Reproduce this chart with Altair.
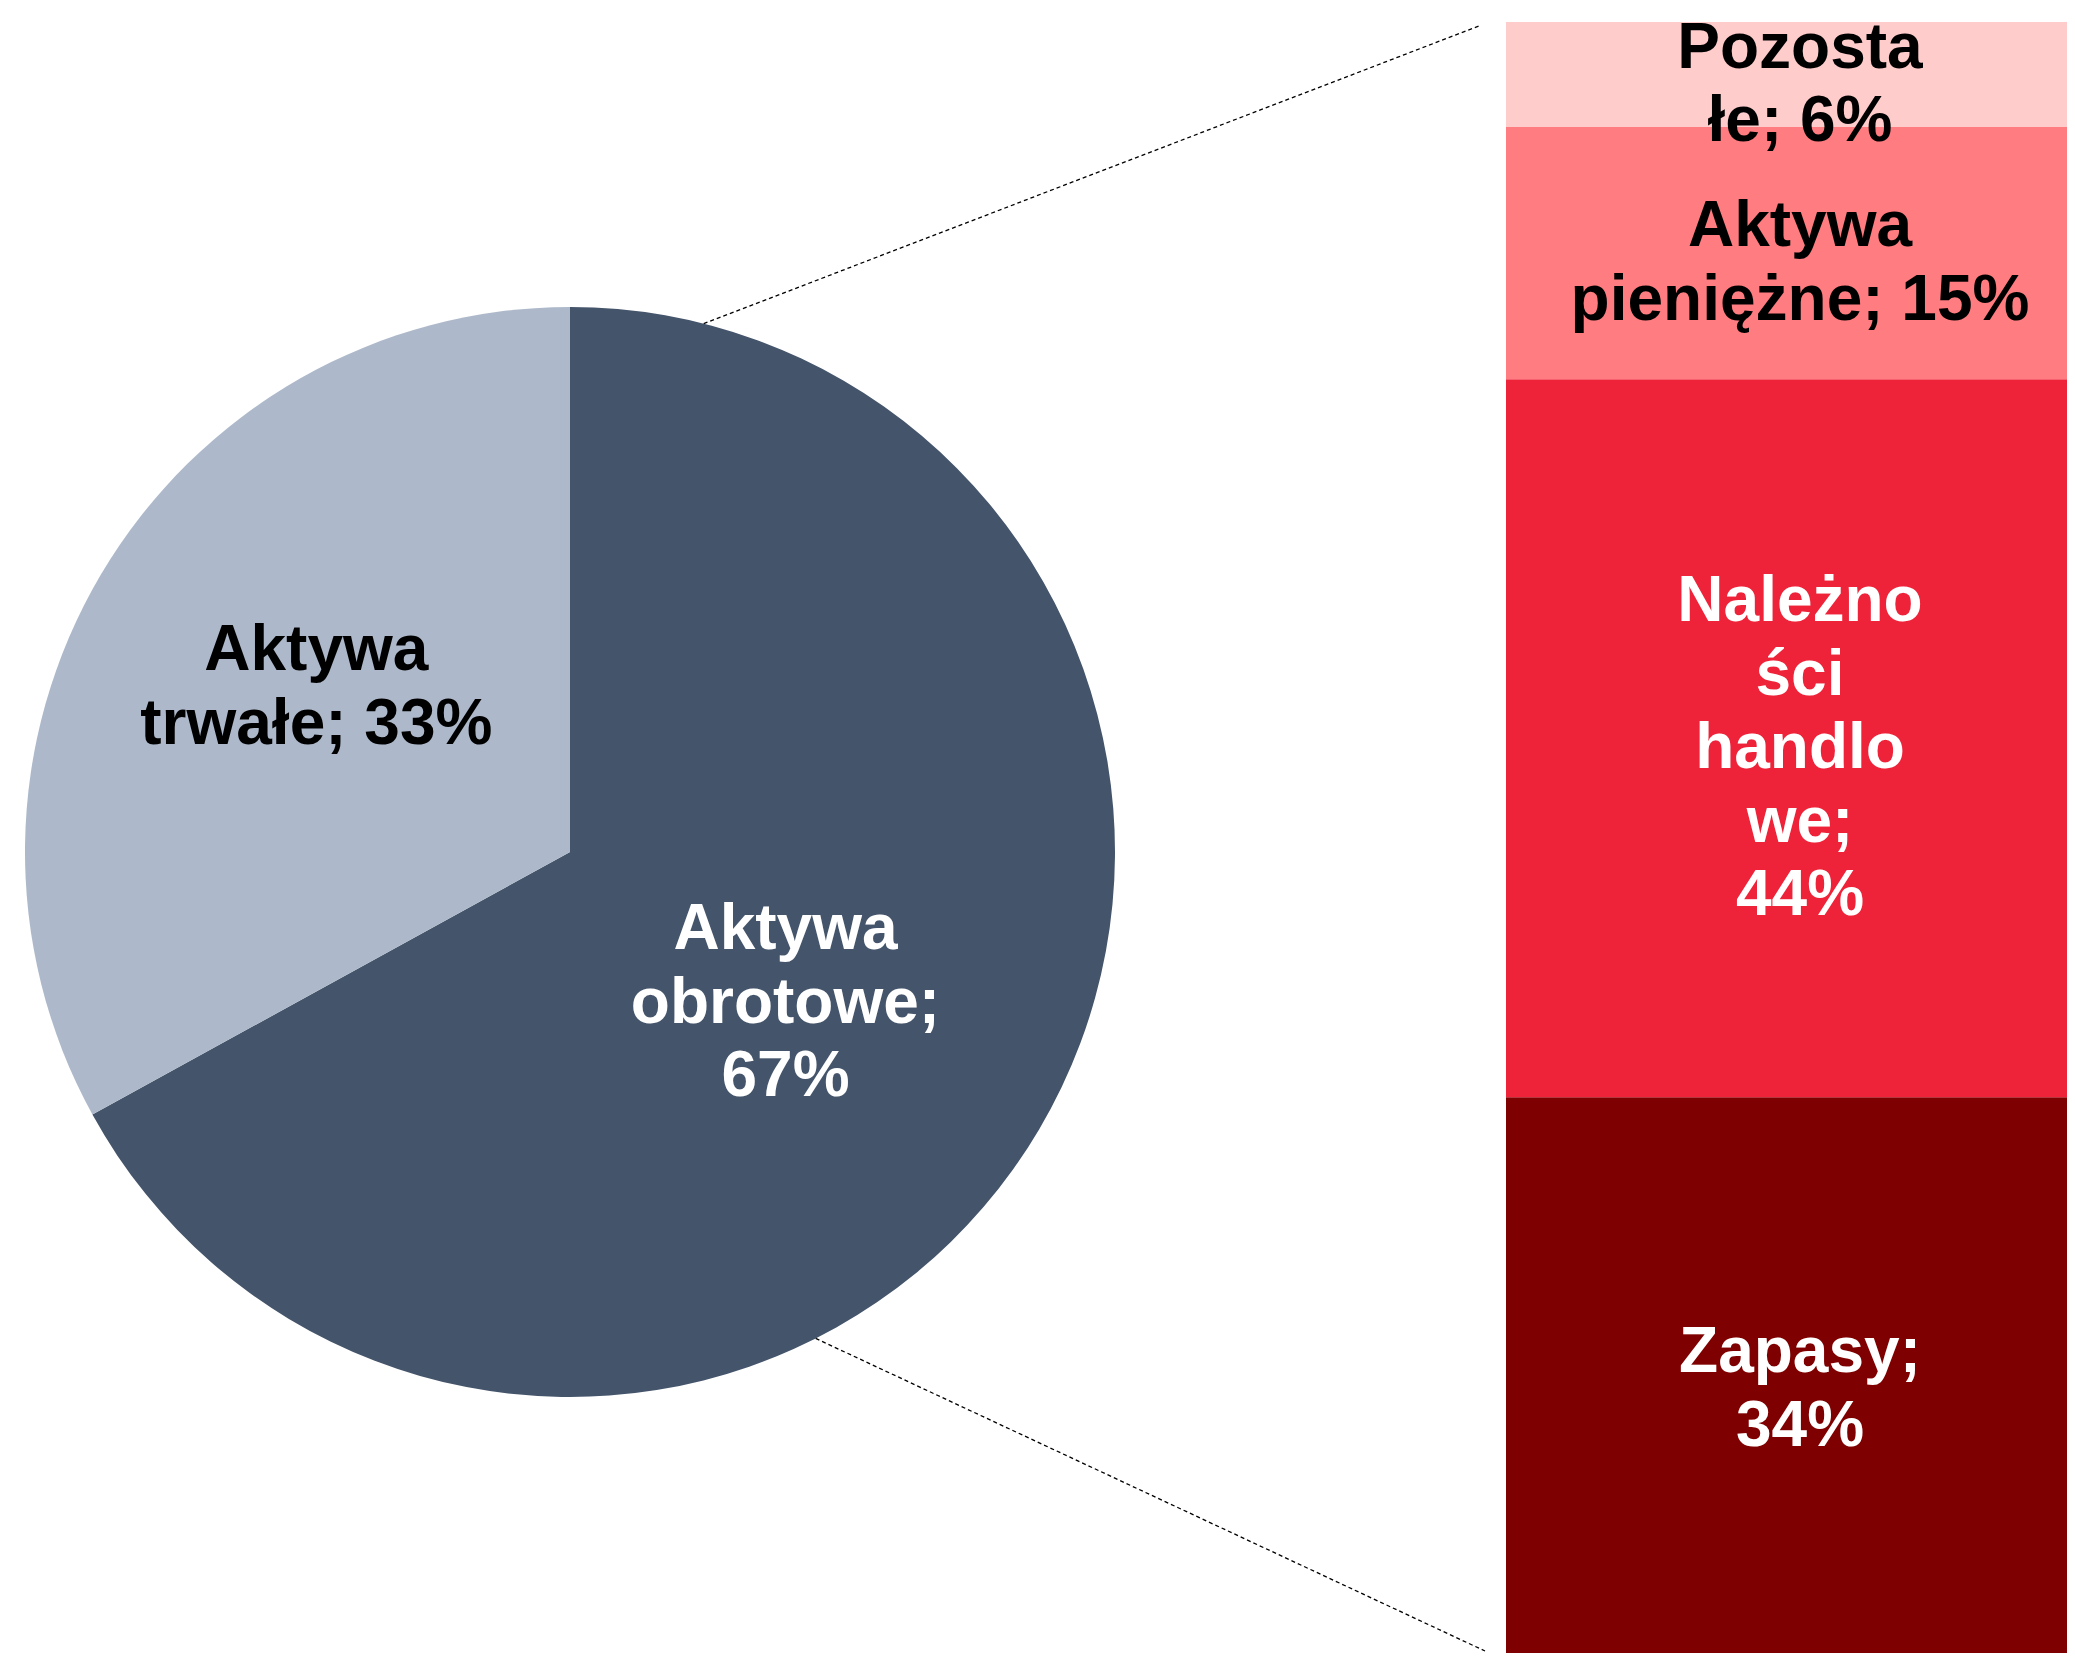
import math
import altair as alt
import pandas as pd

# ---- data ----
pie_categories = ["Aktywa obrotowe", "Aktywa trwałe"]
pie_values = [67, 33]
pie_labels = ["Aktywa\nobrotowe;\n67%", "Aktywa\ntrwałe; 33%"]
pie_colors = ["#44546A", "#ADB9CA"]
pie_text_colors = ["#FFFFFF", "#000000"]

bar_categories = ["Zapasy", "Należności handlowe", "Aktywa pieniężne", "Pozostałe"]
bar_values = [34.4, 43.8, 15.4, 6.4]
bar_labels = ["Zapasy;\n34%", "Należno\nści\nhandlo\nwe;\n44%", "Aktywa\npieniężne; 15%", "Pozosta\nłe; 6%"]
bar_colors = ["#7F0000", "#EE2238", "#FF7C80", "#FFCCCC"]
bar_text_colors = ["#FFFFFF", "#FFFFFF", "#000000", "#000000"]

# ---- layout constants ----
W, H = 2059, 1645
CX, CY, R = 562, 844, 545
BAR_X0, BAR_X1 = 1498, 2070
BAR_TOP, BAR_BOTTOM = 14, 1653
FONT = "Liberation Sans"
FS = 64
LH = 73.5
PXU = (BAR_BOTTOM - BAR_TOP) / sum(bar_values)

pie_df = pd.DataFrame({
    "category": pie_categories,
    "value": pie_values,
    "label": pie_labels,
    "color": pie_colors,
    "tcolor": pie_text_colors,
    "order": list(range(len(pie_categories))),
})

bar_df = pd.DataFrame({
    "category": bar_categories,
    "value": bar_values,
    "label": bar_labels,
    "color": bar_colors,
    "tcolor": bar_text_colors,
    "order": list(range(len(bar_categories))),
    "nlines": [lab.count("\n") + 1 for lab in bar_labels],
})

theta = alt.Theta("value:Q", stack=True)
order = alt.Order("order:Q")

pie = alt.Chart(pie_df).mark_arc(outerRadius=R, stroke=None).encode(
    theta=theta,
    order=order,
    color=alt.Color("color:N", scale=None),
    x=alt.value(CX), y=alt.value(CY),
)

text_common = dict(font=FONT, fontSize=FS, fontWeight="bold", lineBreak="\n",
                   lineHeight=LH, align="center", baseline="middle")

pie_text1 = alt.Chart(pie_df).mark_text(radius=262, dx=-10, dy=-55, **text_common).encode(
    theta=theta, order=order,
    text="label:N",
    color=alt.Color("tcolor:N", scale=None),
    x=alt.value(CX), y=alt.value(CY),
    opacity=alt.condition(alt.datum.order == 0, alt.value(1), alt.value(0)),
)

pie_text2 = alt.Chart(pie_df).mark_text(radius=304, dx=8, dy=-46, **text_common).encode(
    theta=theta, order=order,
    text="label:N",
    color=alt.Color("tcolor:N", scale=None),
    x=alt.value(CX), y=alt.value(CY),
    opacity=alt.condition(alt.datum.order == 1, alt.value(1), alt.value(0)),
)

yscale = alt.Scale(domain=[0, sum(bar_values)], range=[BAR_BOTTOM, BAR_TOP], nice=False, zero=True)

bar_base = alt.Chart(bar_df).transform_stack(
    stack="value", as_=["y0", "y1"], groupby=[], sort=[alt.SortField("order", order="ascending")]
).transform_calculate(
    ytext=f"(datum.y0 + datum.y1) / 2 + (datum.nlines - 1) / 2 * {LH} / {PXU}",
)

bar = bar_base.mark_bar(stroke=None).encode(
    x=alt.value(BAR_X0), x2=alt.value(BAR_X1),
    y=alt.Y("y0:Q", scale=yscale, axis=None),
    y2="y1:Q",
    color=alt.Color("color:N", scale=None),
)

bar_text = bar_base.mark_text(dy=11, **text_common).encode(
    x=alt.value(BAR_X0 + 294),
    y=alt.Y("ytext:Q", scale=yscale, axis=None),
    text="label:N",
    color=alt.Color("tcolor:N", scale=None),
)

def rim(angle_deg):
    a = math.radians(angle_deg)
    return CX + R * math.sin(a), CY - R * math.cos(a)

dummy = pd.DataFrame({"d": [0]})
s1 = rim(14.2)
s2 = rim(153.2)
line1 = alt.Chart(dummy).mark_rule(color="black", strokeWidth=1.3, strokeDash=[4, 3]).encode(
    x=alt.value(s1[0]), y=alt.value(s1[1]), x2=alt.value(BAR_X0 - 27), y2=alt.value(BAR_TOP + 4)
)
line2 = alt.Chart(dummy).mark_rule(color="black", strokeWidth=1.3, strokeDash=[4, 3]).encode(
    x=alt.value(s2[0]), y=alt.value(s2[1]), x2=alt.value(BAR_X0 - 21), y2=alt.value(BAR_BOTTOM - 10)
)

chart = alt.layer(pie, bar, line1, line2, pie_text1, pie_text2, bar_text).properties(
    width=W, height=H, autosize="none", padding=0, background="white"
).configure_view(strokeWidth=0)

chart.save("out.html", embed_options={"renderer": "svg", "actions": False})
